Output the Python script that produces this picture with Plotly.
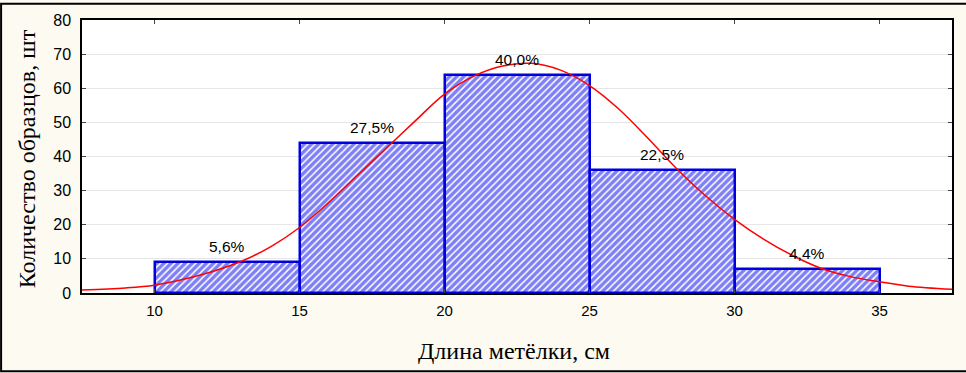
import plotly.graph_objects as go

# Histogram data
bin_centers = [12.5, 17.5, 22.5, 27.5, 32.5]
counts = [9, 44, 64, 36, 7]
percent_labels = ["5,6%", "27,5%", "40,0%", "22,5%", "4,4%"]

# Fitted normal curve
curve_x = [7.5, 9, 10, 11, 12, 13, 14, 15, 16, 17, 18, 19, 20, 21, 22, 23,
           24, 25, 26, 27, 28, 29, 30, 31, 32, 33, 34, 35, 36, 37.5]
curve_y = [0.9, 1.5, 2.3, 4.0, 6.3, 9.3, 13.5, 19.2, 26.5, 34.5, 42.5, 50.5,
           58.3, 63.5, 66.5, 67.3, 65.3, 60.8, 54.0, 45.5, 36.5, 28.5, 21.6,
           15.8, 11.0, 7.2, 4.8, 3.3, 2.0, 1.1]

x_ticks = [10, 15, 20, 25, 30, 35]
y_ticks = [0, 10, 20, 30, 40, 50, 60, 70, 80]

fig = go.Figure()
fig.add_trace(go.Bar(
    x=bin_centers, y=counts, width=5,
    marker=dict(
        color="white",
        line=dict(color="#0000dd", width=2.5),
        pattern=dict(shape="/", fgcolor="#0000ee", bgcolor="white",
                     size=5, solidity=0.7),
    ),
    showlegend=False,
))
fig.add_trace(go.Scatter(
    x=curve_x, y=curve_y, mode="lines", line=dict(color="#ff0000", width=1.5, shape="spline"),
    showlegend=False,
))

for xc, c, lab in zip(bin_centers, counts, percent_labels):
    fig.add_annotation(x=xc, y=c, text=lab, showarrow=False, yanchor="bottom",
                       yshift=5, font=dict(family="Liberation Sans", size=15.5, color="black"))

L, R, T, B = 82, 13, 17, 80
W, H = 966, 373
pw, ph = W - L - R, H - T - B

fig.add_annotation(x=(27 - L) / pw, y=0.49, xref="paper", yref="paper", xanchor="center",
                   yanchor="middle",
                   text="Количество образцов, шт", textangle=-90, showarrow=False,
                   font=dict(family="Liberation Serif", size=24, color="black"))
fig.add_annotation(x=0.497, y=(T + ph - 352) / ph, xref="paper", yref="paper",
                   xanchor="center", yanchor="middle",
                   text="Длина метёлки, см", showarrow=False,
                   font=dict(family="Liberation Serif", size=24, color="black"))

# outer border
fig.add_shape(type="rect", xref="paper", yref="paper",
              x0=(1 - L) / pw, x1=(W + 5 - L) / pw,
              y0=(T + ph - (H - 1)) / ph, y1=(T + ph - 0.5) / ph,
              line=dict(color="black", width=2), fillcolor="rgba(0,0,0,0)", layer="below")

fig.update_layout(
    width=W, height=H,
    margin=dict(l=L, r=R, t=T, b=B),
    paper_bgcolor="#fdfbf1",
    plot_bgcolor="white",
    bargap=0,
    font=dict(family="Liberation Sans", size=15, color="black"),
)
fig.update_xaxes(range=[7.5, 37.5], tickvals=x_ticks, ticks="inside", ticklen=4,
                 showline=True, linecolor="black", linewidth=1.5, mirror="ticks",
                 showgrid=False, zeroline=False, tickfont=dict(size=15),
                 ticklabelstandoff=3)
fig.update_yaxes(range=[0, 80], tickvals=y_ticks, ticks="inside", ticklen=4,
                 showline=True, linecolor="black", linewidth=1.5, mirror="ticks",
                 showgrid=True, gridcolor="#e6e6e6", gridwidth=1, zeroline=False,
                 tickfont=dict(size=16), ticklabelstandoff=6)

fig.write_html("out.html", config={"displayModeBar": False},
               post_script="document.body.style.margin='0';")
